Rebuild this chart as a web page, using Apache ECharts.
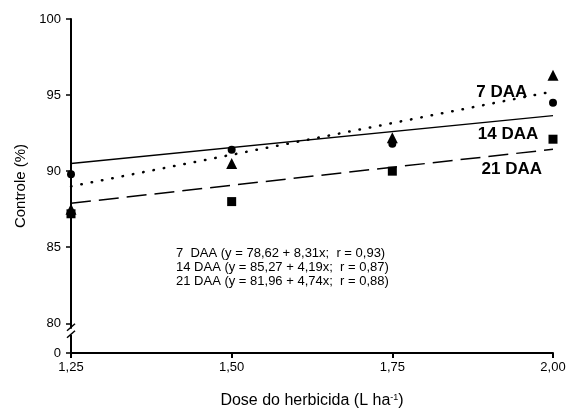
<!DOCTYPE html>
<html><head><meta charset="utf-8">
<script src="https://cdn.jsdelivr.net/npm/echarts@6/dist/echarts.min.js"></script>
<style>html,body{margin:0;padding:0;background:#fff}#c{width:569px;height:414px}</style>
</head><body><div id="c"></div>
<script>
var doses = [1.25, 1.50, 1.75, 2.00];
var daa7 = [87.5, 90.5, 92.2, 96.3];
var daa14 = [89.8, 91.4, 91.8, 94.5];
var daa21 = [87.2, 88.0, 90.0, 92.1];
var fitX = [1.25, 2.00];
var fit7 = [89.0, 95.24];
var fit14 = [90.51, 93.65];
var fit21 = [87.89, 91.44];
var yTicks = [78.05, 80, 85, 90, 95, 100];
var seriesNames = ['7 DAA', '14 DAA', '21 DAA'];
var equations = ['7  DAA (y = 78,62 + 8,31x;  r = 0,93)', '14 DAA (y = 85,27 + 4,19x;  r = 0,87)', '21 DAA (y = 81,96 + 4,74x;  r = 0,88)'];
var labelPos = [[1.96, 95.15], [1.977, 92.45], [1.983, 90.15]];

function pairs(xs, ys){ return xs.map(function(x,i){return [x, ys[i]];}); }
var FONT = '"Liberation Sans", Arial, sans-serif';
var chart = echarts.init(document.getElementById('c'), null, {renderer:'canvas'});
var option = {
  animation: false,
  grid: {left: 71, right: 16, top: 19, bottom: 57},
  xAxis: {
    type: 'value', min: 1.25, max: 2.0, interval: 0.25,
    axisLine: {lineStyle: {color: '#000', width: 2}},
    axisTick: {show: true, length: 5, lineStyle: {color: '#000', width: 2}},
    axisLabel: {color: '#000', fontFamily: FONT, fontSize: 13, margin: 8,
      formatter: function(v){ return v.toFixed(2).replace('.', ','); }},
    splitLine: {show: false},
    name: '{a|Dose do herbicida (L ha}{s|-1}{a|)}',
    nameLocation: 'middle', nameGap: 40,
    nameTextStyle: {rich: {a: {fontFamily: FONT, fontSize: 16, color: '#000'}, s: {fontFamily: FONT, fontSize: 9, color: '#000', verticalAlign: 'top', padding:[0,0,7,0]}}}
  },
  yAxis: {
    type: 'value', min: 78.05, max: 100,
    axisLine: {lineStyle: {color: '#000', width: 2}},
    axisTick: {show: true, length: 5, customValues: yTicks, lineStyle: {color: '#000', width: 1.5}},
    axisLabel: {color: '#000', fontFamily: FONT, fontSize: 13, margin: 10, customValues: yTicks,
      formatter: function(v){ return v < 79 ? '0' : String(v); }},
    splitLine: {show: false},
    name: 'Controle (%)', nameLocation: 'middle', nameGap: 42,
    nameTextStyle: {fontFamily: FONT, fontSize: 15, color: '#000'}
  },
  series: [
    {type: 'line', data: pairs(fitX, fit7), showSymbol: false, lineStyle: {color: '#000', width: 2.5, type: [0.5, 10], cap: 'round'}, z: 2},
    {type: 'line', data: pairs(fitX, fit14), showSymbol: false, lineStyle: {color: '#000', width: 1.5, type: 'solid'}, z: 2},
    {type: 'line', data: pairs(fitX, fit21), showSymbol: false, lineStyle: {color: '#000', width: 1.5, type: [20, 8]}, z: 2},
    {type: 'scatter', name: seriesNames[0], data: pairs(doses, daa7), symbol: 'triangle', symbolSize: 11, itemStyle: {color: '#000', opacity: 1}, z: 3},
    {type: 'scatter', name: seriesNames[1], data: pairs(doses, daa14), symbol: 'circle', symbolSize: 8, itemStyle: {color: '#000', opacity: 1}, z: 3},
    {type: 'scatter', name: seriesNames[2], data: pairs(doses, daa21), symbol: 'rect', symbolSize: 9, itemStyle: {color: '#000', opacity: 1}, z: 3}
  ]
};
chart.setOption(option);

var g = [];
seriesNames.forEach(function(n, i){
  var p = chart.convertToPixel({gridIndex: 0}, labelPos[i]);
  g.push({type: 'text', x: p[0], y: p[1], z: 10,
    style: {text: n, fill: '#000', font: 'bold 17px ' + FONT, align: 'right', verticalAlign: 'middle'}});
});
var eqTop = chart.convertToPixel({gridIndex: 0}, [1.25, 84.6])[1];
equations.forEach(function(t, i){
  g.push({type: 'text', x: 176, y: eqTop + i * 14, z: 10,
    style: {text: t, fill: '#000', font: '13px ' + FONT, align: 'left', verticalAlign: 'middle'}});
});
var b = chart.convertToPixel({gridIndex: 0}, [1.25, 79.45]);
g.push({type: 'rect', shape: {x: b[0] - 3, y: b[1] - 3, width: 6, height: 6}, style: {fill: '#fff'}, z: 20});
g.push({type: 'line', shape: {x1: b[0] - 4, y1: b[1] - 1, x2: b[0] + 4, y2: b[1] - 8}, style: {stroke: '#000', lineWidth: 1.5}, z: 21});
g.push({type: 'line', shape: {x1: b[0] - 4, y1: b[1] + 6, x2: b[0] + 4, y2: b[1] - 1}, style: {stroke: '#000', lineWidth: 1.5}, z: 21});
chart.setOption({graphic: g});
</script>
</body></html>
